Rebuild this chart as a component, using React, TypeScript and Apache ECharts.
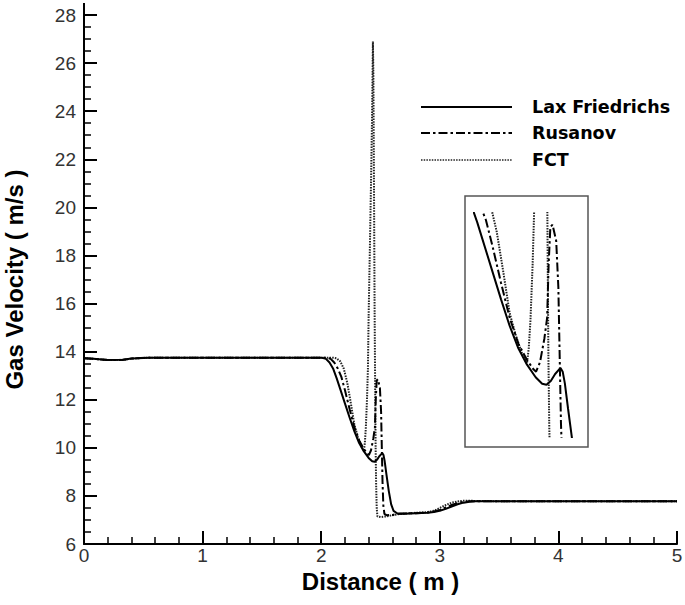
import React, { useEffect, useRef } from "react";
import * as echarts from "echarts";

// ---- tick labels ----
const xTickValues = [0, 1, 2, 3, 4, 5];
const yTickValues = [6, 8, 10, 12, 14, 16, 18, 20, 22, 24, 26, 28];

// ---- series names ----
const seriesNames = ["Lax Friedrichs", "Rusanov", "FCT"];

// ---- Lax Friedrichs (solid) ----
const laxX = [0, 0.08, 0.2, 0.33, 0.4, 0.55, 1.0, 1.5, 2.0, 2.04, 2.07, 2.1, 2.13, 2.16, 2.2, 2.24, 2.28, 2.32, 2.36, 2.4, 2.43, 2.45, 2.47, 2.49, 2.515, 2.525, 2.535, 2.55, 2.57, 2.59, 2.61, 2.64, 2.7, 2.8, 2.9, 2.95, 3.0, 3.05, 3.1, 3.15, 3.2, 3.25, 3.3, 3.5, 4.0, 5.0];
const laxY = [13.73, 13.7, 13.65, 13.66, 13.71, 13.75, 13.75, 13.75, 13.75, 13.7, 13.55, 13.3, 12.9, 12.45, 11.85, 11.25, 10.68, 10.2, 9.85, 9.58, 9.44, 9.42, 9.5, 9.65, 9.78, 9.7, 9.45, 8.9, 8.2, 7.65, 7.38, 7.28, 7.26, 7.28, 7.3, 7.33, 7.38, 7.46, 7.56, 7.65, 7.72, 7.76, 7.78, 7.78, 7.78, 7.78];

// ---- Rusanov (dash-dot) ----
const rusX = [0, 0.08, 0.2, 0.33, 0.4, 0.55, 1.0, 1.5, 2.0, 2.05, 2.08, 2.11, 2.14, 2.17, 2.2, 2.24, 2.28, 2.32, 2.36, 2.39, 2.402, 2.42, 2.44, 2.453, 2.46, 2.468, 2.478, 2.495, 2.505, 2.512, 2.517, 2.524, 2.533, 2.55, 2.6, 2.65, 2.7, 2.8, 2.9, 2.95, 3.0, 3.05, 3.1, 3.15, 3.2, 3.25, 3.3, 3.5, 4.0, 5.0];
const rusY = [13.73, 13.7, 13.65, 13.66, 13.71, 13.75, 13.75, 13.75, 13.75, 13.75, 13.7, 13.55, 13.3, 12.95, 12.4, 11.6, 10.85, 10.3, 9.95, 9.75, 9.7, 9.9, 10.4, 10.85, 12.0, 12.8, 12.85, 12.5, 11.5, 9.8, 8.6, 7.6, 7.25, 7.2, 7.21, 7.25, 7.27, 7.28, 7.31, 7.35, 7.42, 7.52, 7.62, 7.7, 7.75, 7.78, 7.78, 7.78, 7.78, 7.78];

// ---- FCT (dotted) ----
const fctX = [0, 0.08, 0.2, 0.33, 0.4, 0.55, 1.0, 1.5, 2.0, 2.1, 2.13, 2.16, 2.19, 2.22, 2.25, 2.28, 2.31, 2.34, 2.36, 2.368, 2.376, 2.386, 2.394, 2.4, 2.41, 2.42, 2.428, 2.433, 2.436, 2.44, 2.445, 2.45, 2.455, 2.459, 2.463, 2.468, 2.474, 2.5, 2.55, 2.6, 2.65, 2.7, 2.8, 2.9, 2.95, 3.0, 3.05, 3.1, 3.15, 3.2, 3.25, 3.3, 3.5, 4.0, 5.0];
const fctY = [13.73, 13.7, 13.65, 13.66, 13.71, 13.75, 13.75, 13.75, 13.75, 13.75, 13.72, 13.6, 13.3, 12.7, 11.85, 10.95, 10.45, 10.05, 9.88, 10.2, 10.8, 12.0, 13.3, 15.5, 18.2, 21.0, 23.5, 25.5, 26.9, 25.5, 21.0, 16.0, 12.5, 10.0, 8.5, 7.5, 7.15, 7.12, 7.15, 7.2, 7.24, 7.26, 7.3, 7.33, 7.38, 7.5, 7.62, 7.72, 7.77, 7.8, 7.8, 7.79, 7.78, 7.78, 7.78];

// ---- inset (zoomed view) ranges ----
const insetXRange = [2.115, 2.605];
const insetYRange = [8.3, 13.1];

const zip = (xs: number[], ys: number[]) => xs.map((x, i) => [x, ys[i]]);

const FONT = "Liberation Sans";
const DASHDOT = [9, 3, 2.5, 3];
const DOTTED = [1.5, 1.2];

const lineStyles = [
  { color: "#000", width: 2, type: "solid" as any },
  { color: "#000", width: 2, type: DASHDOT as any },
  { color: "#222", width: 2, type: DOTTED as any },
];

export default function App() {
  const ref = useRef<HTMLDivElement>(null);

  useEffect(() => {
    document.body.style.margin = "0";
    if (!ref.current) return;
    const chart = echarts.init(ref.current, undefined, { renderer: "svg" });

    const datasets = [zip(laxX, laxY), zip(rusX, rusY), zip(fctX, fctY)];

    const mkSeries = (gridIdx: number) =>
      datasets.map((data, i) => ({
        type: "line",
        name: seriesNames[i],
        xAxisIndex: gridIdx,
        yAxisIndex: gridIdx,
        data,
        showSymbol: false,
        symbol: "none",
        clip: true,
        lineStyle: lineStyles[i],
        z: 3 - i,
      }));

    const legendTop = [107, 133, 160];
    const legendGraphics: any[] = [];
    seriesNames.forEach((n, i) => {
      legendGraphics.push({
        type: "line",
        shape: { x1: 421, y1: legendTop[i], x2: 512, y2: legendTop[i] },
        style: {
          stroke: lineStyles[i].color,
          lineWidth: i === 2 ? 1.6 : lineStyles[i].width,
          lineDash: i === 0 ? null : i === 1 ? DASHDOT : DOTTED,
        },
      });
      legendGraphics.push({
        type: "text",
        x: 532,
        y: legendTop[i],
        style: {
          text: n,
          fill: "#000",
          font: `bold 17.5px "DejaVu Sans"`,
          textVerticalAlign: "middle",
          verticalAlign: "middle",
        },
      });
    });

    const option: any = {
      animation: false,
      backgroundColor: "#fff",
      grid: [
        { left: 84, top: 15, width: 593, height: 529, show: false, outerBoundsMode: "none", containLabel: false },
        { left: 474, top: 213, width: 106, height: 224, show: false, outerBoundsMode: "none", containLabel: false },
      ],
      xAxis: [
        {
          type: "value",
          gridIndex: 0,
          min: 0,
          max: 5,
          interval: 1,
          axisLine: { show: true, onZero: false, lineStyle: { color: "#000", width: 2 } },
          axisTick: { show: true, inside: true, length: 13, lineStyle: { color: "#000", width: 2 } },
          minorTick: { show: true, splitNumber: 5, length: 7, lineStyle: { color: "#000", width: 1.5 } },
          splitLine: { show: false },
          axisLabel: {
            color: "#333",
            fontSize: 19,
            fontFamily: FONT,
            margin: 2,
            customValues: xTickValues,
          },
          name: "Distance ( m )",
          nameLocation: "middle",
          nameGap: 23,
          nameTextStyle: { fontSize: 24, fontWeight: "bold", color: "#000", fontFamily: FONT },
        },
        {
          type: "value",
          gridIndex: 1,
          min: insetXRange[0],
          max: insetXRange[1],
          show: false,
        },
      ],
      yAxis: [
        {
          type: "value",
          gridIndex: 0,
          min: 6,
          max: 28,
          interval: 2,
          axisLine: { show: true, onZero: false, lineStyle: { color: "#000", width: 2 } },
          axisTick: { show: true, inside: true, length: 13, lineStyle: { color: "#000", width: 2 } },
          minorTick: { show: true, splitNumber: 4, length: 7, lineStyle: { color: "#000", width: 1.5 } },
          splitLine: { show: false },
          axisLabel: {
            color: "#333",
            fontSize: 19,
            fontFamily: FONT,
            margin: 8,
            customValues: yTickValues,
          },
          name: "Gas Velocity ( m/s )",
          nameLocation: "middle",
          nameGap: 58,
          nameTextStyle: { fontSize: 24, fontWeight: "bold", color: "#000", fontFamily: FONT },
        },
        {
          type: "value",
          gridIndex: 1,
          min: insetYRange[0],
          max: insetYRange[1],
          show: false,
        },
      ],
      graphic: [
        {
          type: "line",
          shape: { x1: 84, y1: 3, x2: 84, y2: 16 },
          style: { stroke: "#000", lineWidth: 2 },
        },
        {
          type: "rect",
          shape: { x: 465, y: 196, width: 123, height: 251 },
          style: { fill: "none", stroke: "#555", lineWidth: 1.5 },
        },
        ...legendGraphics,
      ],
      series: [...mkSeries(0), ...mkSeries(1)],
    };

    chart.setOption(option);
    return () => chart.dispose();
  }, []);

  return (
    <div
      ref={ref}
      style={{ position: "fixed", left: 0, top: 0, width: 685, height: 605, background: "#fff" }}
    />
  );
}
